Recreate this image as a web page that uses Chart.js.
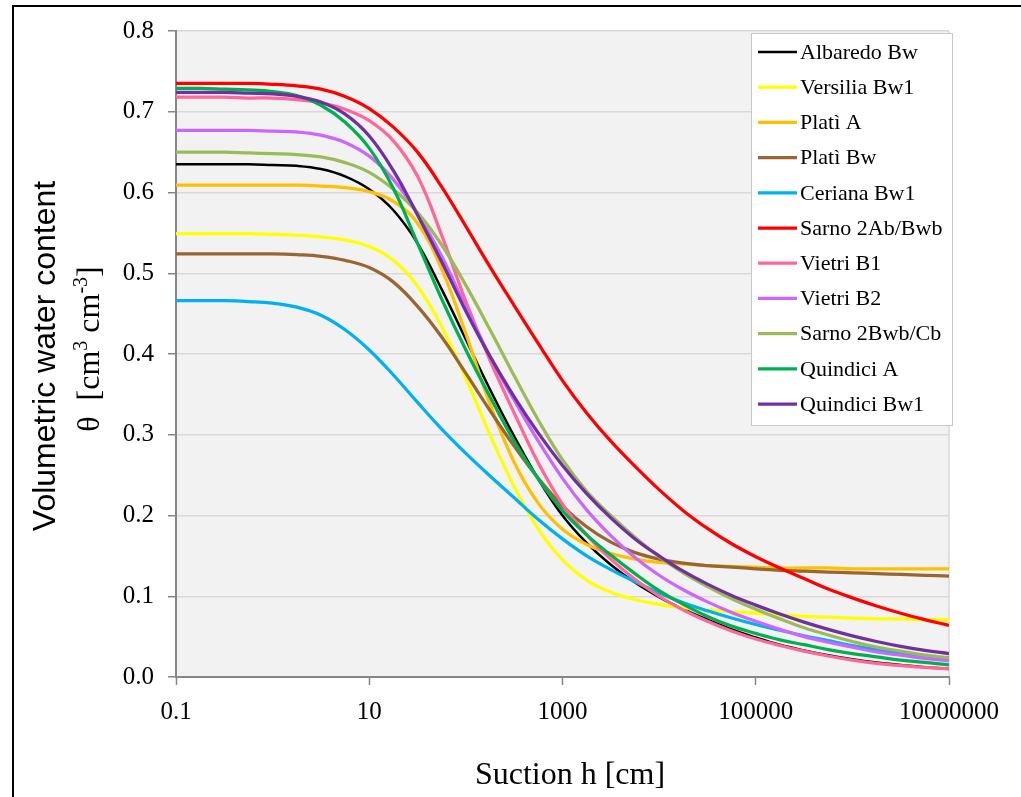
<!DOCTYPE html>
<html>
<head>
<meta charset="utf-8">
<title>Soil water retention curves</title>
<script src="https://cdn.jsdelivr.net/npm/chart.js@4.4.1/dist/chart.umd.min.js"></script>
<style>
  html, body { margin: 0; padding: 0; background: #fff; }
  #wrap { width: 1021px; height: 797px; position: relative; }
</style>
</head>
<body>
<div id="wrap"><canvas id="retention"></canvas></div>
<script>
// suction h [cm], four samples per decade
const suction = [0.1, 0.1778, 0.3162, 0.5623, 1, 1.778, 3.162, 5.623, 10, 17.78, 31.62, 56.23,
    100, 177.8, 316.2, 562.3, 1000, 1778, 3162, 5623, 10000, 17783, 31623, 56234,
    100000, 177828, 316228, 562341, 1000000, 1778279, 3162278, 5623413, 10000000];

// volumetric water content [cm3 cm-3] for each soil horizon
const albaredoBw  = [0.635, 0.635, 0.635, 0.635, 0.634, 0.633, 0.629, 0.620, 0.604, 0.578, 0.537, 0.480, 0.418, 0.356, 0.298, 0.245, 0.200,
    0.166, 0.139, 0.117, 0.099, 0.084, 0.071, 0.059, 0.049, 0.040, 0.033, 0.027, 0.022, 0.018, 0.015, 0.012, 0.010];
const versiliaBw1 = [0.549, 0.549, 0.549, 0.549, 0.548, 0.547, 0.545, 0.541, 0.533, 0.516, 0.484, 0.434, 0.370, 0.300, 0.236, 0.183, 0.145,
    0.120, 0.105, 0.096, 0.090, 0.086, 0.083, 0.081, 0.079, 0.077, 0.075, 0.074, 0.073, 0.072, 0.072, 0.071, 0.071];
const platiA      = [0.609, 0.609, 0.609, 0.609, 0.609, 0.609, 0.608, 0.606, 0.601, 0.589, 0.562, 0.505, 0.425, 0.338, 0.266, 0.215, 0.183,
    0.164, 0.153, 0.146, 0.142, 0.140, 0.138, 0.137, 0.136, 0.135, 0.135, 0.135, 0.134, 0.134, 0.134, 0.134, 0.134];
const platiBw     = [0.524, 0.524, 0.524, 0.524, 0.524, 0.523, 0.521, 0.516, 0.507, 0.489, 0.459, 0.421, 0.376, 0.330, 0.286, 0.246, 0.212,
    0.186, 0.167, 0.154, 0.146, 0.141, 0.138, 0.136, 0.134, 0.132, 0.131, 0.130, 0.129, 0.128, 0.127, 0.126, 0.125];
const cerianaBw1  = [0.466, 0.466, 0.466, 0.465, 0.463, 0.458, 0.448, 0.430, 0.405, 0.374, 0.340, 0.307, 0.277, 0.249, 0.222, 0.195, 0.171,
    0.150, 0.133, 0.118, 0.104, 0.092, 0.082, 0.073, 0.065, 0.058, 0.051, 0.045, 0.039, 0.034, 0.030, 0.026, 0.023];
const sarno2AbBwb = [0.735, 0.735, 0.735, 0.735, 0.734, 0.732, 0.728, 0.719, 0.704, 0.681, 0.650, 0.607, 0.558, 0.508, 0.460, 0.413, 0.367,
    0.327, 0.292, 0.261, 0.232, 0.206, 0.184, 0.165, 0.149, 0.135, 0.122, 0.109, 0.098, 0.088, 0.079, 0.071, 0.064];
const vietriB1    = [0.718, 0.718, 0.718, 0.717, 0.717, 0.715, 0.711, 0.703, 0.689, 0.664, 0.620, 0.547, 0.465, 0.392, 0.327, 0.265, 0.214,
    0.176, 0.146, 0.121, 0.100, 0.083, 0.069, 0.057, 0.047, 0.039, 0.032, 0.026, 0.021, 0.017, 0.014, 0.012, 0.010];
const vietriB2    = [0.677, 0.677, 0.677, 0.677, 0.676, 0.675, 0.671, 0.662, 0.645, 0.616, 0.574, 0.521, 0.458, 0.397, 0.343, 0.292, 0.246,
    0.207, 0.175, 0.148, 0.126, 0.108, 0.093, 0.080, 0.069, 0.059, 0.050, 0.043, 0.037, 0.031, 0.027, 0.023, 0.020];
const sarno2BwbCb = [0.650, 0.650, 0.650, 0.649, 0.648, 0.647, 0.644, 0.637, 0.625, 0.604, 0.575, 0.535, 0.485, 0.430, 0.373, 0.318, 0.269,
    0.230, 0.200, 0.173, 0.149, 0.129, 0.112, 0.097, 0.084, 0.072, 0.061, 0.052, 0.044, 0.037, 0.032, 0.027, 0.024];
const quindiciA   = [0.729, 0.729, 0.728, 0.727, 0.725, 0.720, 0.708, 0.687, 0.655, 0.605, 0.537, 0.468, 0.405, 0.347, 0.292, 0.245, 0.206,
    0.176, 0.151, 0.128, 0.107, 0.090, 0.075, 0.063, 0.054, 0.046, 0.040, 0.034, 0.029, 0.025, 0.021, 0.018, 0.015];
const quindiciBw1 = [0.724, 0.724, 0.724, 0.723, 0.722, 0.719, 0.712, 0.697, 0.670, 0.627, 0.572, 0.514, 0.453, 0.397, 0.347, 0.302, 0.262,
    0.227, 0.197, 0.171, 0.150, 0.131, 0.115, 0.101, 0.089, 0.078, 0.068, 0.059, 0.051, 0.044, 0.038, 0.033, 0.029];

const labels = ['Albaredo Bw', 'Versilia Bw1', 'Platì A', 'Platì Bw', 'Ceriana Bw1', 'Sarno 2Ab/Bwb',
    'Vietri B1', 'Vietri B2', 'Sarno 2Bwb/Cb', 'Quindici A', 'Quindici Bw1'];
const series = [albaredoBw, versiliaBw1, platiA, platiBw, cerianaBw1, sarno2AbBwb,
    vietriB1, vietriB2, sarno2BwbCb, quindiciA, quindiciBw1];

const xTicks = [0.1, 10, 1000, 100000, 10000000];
const yTicks = [0, 0.1, 0.2, 0.3, 0.4, 0.5, 0.6, 0.7, 0.8];

// line colours, same order as labels
const colors = ['#000000', '#ffff00', '#ffc000', '#996633', '#00b0f0', '#ff0000',
    '#ff6699', '#cc66ff', '#9bbb59', '#00b050', '#7030a0'];

const serif = "'Liberation Serif', 'Times New Roman', serif";
const sans = "'Liberation Sans', Arial, sans-serif";
const axisGray = '#868686';

const datasets = series.map((vals, i) => ({
    label: labels[i],
    data: suction.map((h, k) => ({ x: h, y: vals[k] })),
    borderColor: colors[i],
    borderWidth: i === 0 ? 2.5 : 3.25,
    pointRadius: 0,
    fill: false,
    tension: 0.4,
    order: series.length - i   // later series drawn on top
}));

// grey plot area, frame and right edge
const backdrop = {
    id: 'backdrop',
    beforeDraw(chart) {
        const { ctx, chartArea: a } = chart;
        ctx.save();
        ctx.fillStyle = '#f2f2f2';
        ctx.fillRect(a.left, a.top, a.right - a.left, a.bottom - a.top);
        ctx.strokeStyle = '#d9d9d9';
        ctx.lineWidth = 1.5;
        ctx.beginPath();
        ctx.moveTo(a.right, a.top);
        ctx.lineTo(a.right, a.bottom);
        ctx.stroke();
        ctx.strokeStyle = '#000';
        ctx.lineWidth = 2;
        ctx.strokeRect(13, 6, 1020, 800);
        ctx.restore();
    }
};

// legend box inside the plot area
const boxLegend = {
    id: 'boxLegend',
    afterDatasetsDraw(chart) {
        const ctx = chart.ctx;
        const left = 751, top = 33, w = 201, h = 392, rowH = 35.2;
        ctx.save();
        ctx.fillStyle = '#fff';
        ctx.fillRect(left, top, w, h);
        ctx.strokeStyle = '#c8c8c8';
        ctx.lineWidth = 1;
        ctx.strokeRect(left + 0.5, top + 0.5, w, h);
        ctx.font = '22px ' + serif;
        ctx.textBaseline = 'middle';
        ctx.textAlign = 'left';
        chart.data.datasets.forEach((ds, i) => {
            const y = top + 19 + rowH * i;
            ctx.strokeStyle = ds.borderColor;
            ctx.lineWidth = ds.borderWidth;
            ctx.beginPath();
            ctx.moveTo(left + 7, y);
            ctx.lineTo(left + 46, y);
            ctx.stroke();
            ctx.fillStyle = '#000';
            ctx.fillText(ds.label, left + 49, y + 1);
        });
        ctx.restore();
    }
};

// draws runs of text, some raised as superscripts
function drawRuns(ctx, runs, x, y) {
    runs.forEach(r => {
        ctx.font = r.font;
        ctx.fillText(r.text, x, y + (r.dy || 0));
        x += ctx.measureText(r.text).width;
    });
}
function runsWidth(ctx, runs) {
    return runs.reduce((s, r) => { ctx.font = r.font; return s + ctx.measureText(r.text).width; }, 0);
}

// axis titles
const axisTitles = {
    id: 'axisTitles',
    afterDraw(chart) {
        const ctx = chart.ctx;
        ctx.save();
        ctx.fillStyle = '#000';
        ctx.textBaseline = 'alphabetic';
        ctx.textAlign = 'left';

        ctx.font = '32px ' + serif;
        const xt = 'Suction h [cm]';
        ctx.fillText(xt, 570 - ctx.measureText(xt).width / 2, 784);

        ctx.save();
        ctx.translate(0, 356);
        ctx.rotate(-Math.PI / 2);
        ctx.font = '32px ' + sans;
        const line1 = 'Volumetric water content';
        ctx.fillText(line1, -ctx.measureText(line1).width / 2, 55);
        const big = '32px ' + serif, small = '20px ' + serif;
        const line2 = [
            { text: 'θ  [cm', font: big },
            { text: '3', font: small, dy: -12 },
            { text: ' cm', font: big },
            { text: '-3', font: small, dy: -12 },
            { text: ']', font: big }
        ];
        drawRuns(ctx, line2, -runsWidth(ctx, line2) / 2 + 7, 99);
        ctx.restore();
        ctx.restore();
    }
};

new Chart(document.getElementById('retention'), {
    type: 'line',
    data: { datasets },
    options: {
        responsive: true,
        maintainAspectRatio: false,
        animation: false,
        layout: { padding: { top: 31, right: 72, left: 0, bottom: 0 } },
        plugins: {
            legend: { display: false },
            tooltip: { enabled: false }
        },
        scales: {
            x: {
                type: 'logarithmic',
                min: 0.1,
                max: 10000000,
                afterBuildTicks: (scale) => { scale.ticks = xTicks.map(v => ({ value: v })); },
                afterFit: (scale) => { scale.height = 120; },
                ticks: {
                    autoSkip: false,
                    maxRotation: 0,
                    padding: 12,
                    color: '#000',
                    font: { family: serif, size: 25 },
                    callback: (v) => String(v)
                },
                grid: { drawOnChartArea: false, tickLength: 8, tickColor: axisGray, tickWidth: 1.5 },
                border: { color: axisGray, width: 2 }
            },
            y: {
                min: 0,
                max: 0.8,
                afterBuildTicks: (scale) => { scale.ticks = yTicks.map(v => ({ value: v })); },
                afterFit: (scale) => { scale.width = 176; },
                ticks: {
                    padding: 14,
                    color: '#000',
                    font: { family: serif, size: 25 },
                    callback: (v) => v.toFixed(1)
                },
                grid: { color: '#d9d9d9', lineWidth: 1.5, tickLength: 8, tickColor: axisGray, tickWidth: 1.5 },
                border: { color: axisGray, width: 2 }
            }
        }
    },
    plugins: [backdrop, boxLegend, axisTitles]
});
</script>
</body>
</html>
